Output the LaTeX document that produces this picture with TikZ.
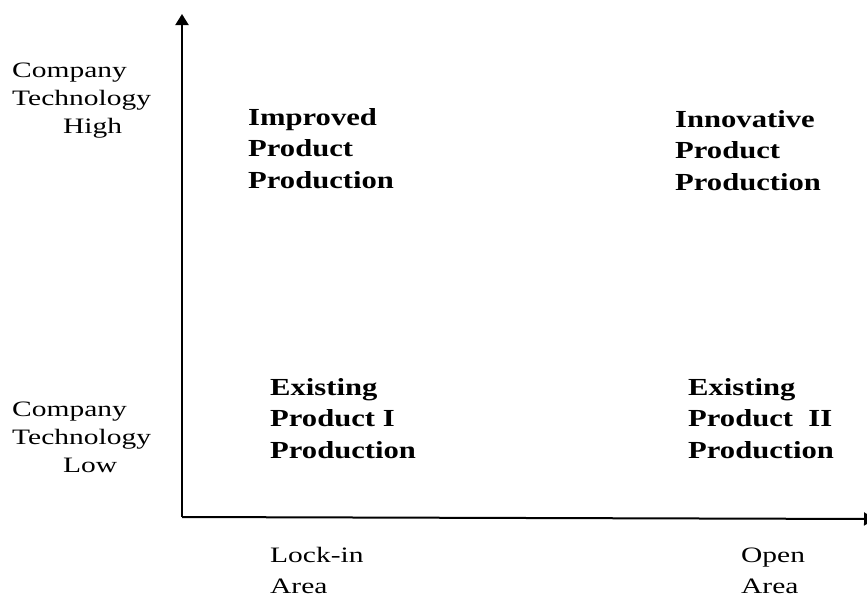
\documentclass[tikz,border=0pt]{standalone}
\usepackage{fontspec}
\setmainfont{Liberation Serif}
\newfontfamily\regfont[FakeStretch=1.34]{Liberation Serif}
\newfontfamily\boldfnt[FakeStretch=1.25]{Liberation Serif Bold}
\usetikzlibrary{arrows.meta}
\begin{document}
\begin{tikzpicture}[x=1pt,y=-1pt,
  axis/.style={line width=2pt,-{Triangle[width=13pt,length=11pt]}},
  lab/.style={inner sep=0pt,anchor=base west,align=left,font=\regfont\fontsize{22}{28}\selectfont},
  quad/.style={inner sep=0pt,anchor=base west,align=left,font=\boldfnt\fontsize{24.5}{31.5}\selectfont},
  bot/.style={inner sep=0pt,anchor=base west,align=left,font=\regfont\fontsize{22}{31}\selectfont}]
\useasboundingbox (0,0) rectangle (867,597);
\coordinate (O) at (182,517);
\coordinate (Ytop) at (182,14);
\coordinate (Xend) at (875,519);
\draw[axis] (O) -- (Ytop);
\draw[axis] (O) -- (Xend);
% anchors are at the baseline of the last line
\node[lab] (hi) at (12,133) {Company\\Technology\\\hspace*{51pt}High};
\node[lab] (lo) at (12,472) {Company\\Technology\\\hspace*{51pt}Low};
\node[quad] (imp) at (248,188) {Improved\\Product\\Production};
\node[quad] (inn) at (675,190) {Innovative\\Product\\Production};
\node[quad] (ex1) at (270,458) {Existing\\Product I\\Production};
\node[quad] (ex2) at (688,458) {Existing\\Product\ \ II\\Production};
\node[bot] (lock) at (270,593) {Lock-in\\Area};
\node[bot] (open) at (741,593) {Open\\Area};
\end{tikzpicture}
\end{document}
